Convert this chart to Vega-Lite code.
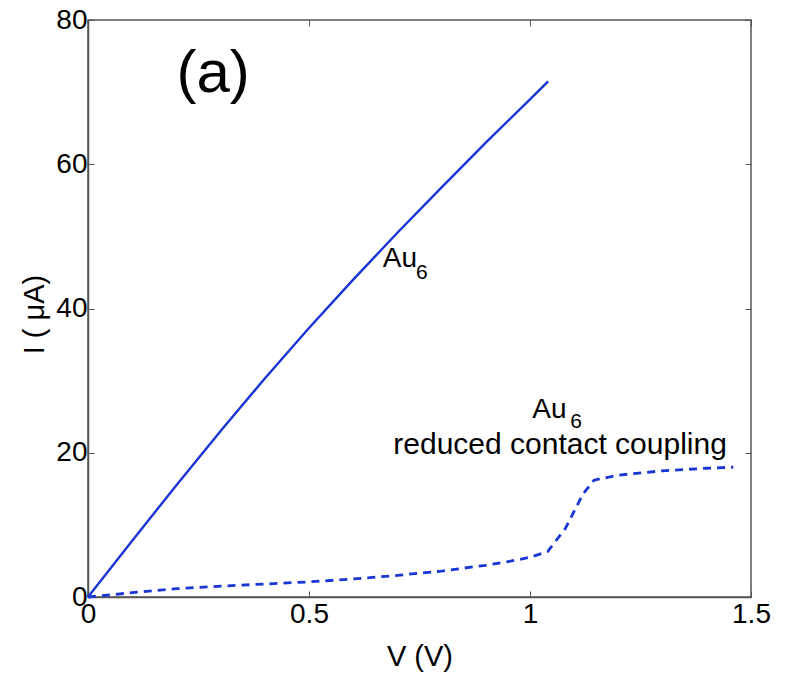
{
  "$schema": "https://vega.github.io/schema/vega-lite/v6.json",
  "width": 663,
  "height": 577,
  "autosize": {"type": "none"},
  "padding": {"left": 88, "top": 20, "right": 35, "bottom": 77},
  "background": "white",
  "config": {
    "view": {"stroke": "#555555", "strokeWidth": 1.5},
    "font": "Liberation Sans",
    "axis": {
      "grid": false,
      "labelFont": "Liberation Sans",
      "labelFontSize": 28,
      "labelColor": "black",
      "titleFont": "Liberation Sans",
      "titleFontSize": 29,
      "titleFontWeight": "normal",
      "titleColor": "black",
      "tickSize": -6,
      "tickColor": "#555555",
      "domainColor": "#555555",
      "domainWidth": 1.5,
      "tickWidth": 1
    }
  },
  "datasets": {
    "solid": [
      {"V": 0.0, "I": 0.0},
      {"V": 0.1, "I": 7.8},
      {"V": 0.2, "I": 15.5},
      {"V": 0.3, "I": 23.0},
      {"V": 0.4, "I": 30.3},
      {"V": 0.5, "I": 37.3},
      {"V": 0.6, "I": 44.0},
      {"V": 0.7, "I": 50.5},
      {"V": 0.8, "I": 56.8},
      {"V": 0.9, "I": 63.0},
      {"V": 1.0, "I": 69.0},
      {"V": 1.041, "I": 71.5}
    ],
    "dashed": [
      {"V": 0.0, "I": 0.0},
      {"V": 0.1, "I": 0.6},
      {"V": 0.2, "I": 1.15},
      {"V": 0.3, "I": 1.5},
      {"V": 0.4, "I": 1.8},
      {"V": 0.5, "I": 2.1},
      {"V": 0.6, "I": 2.5},
      {"V": 0.7, "I": 3.0},
      {"V": 0.8, "I": 3.6},
      {"V": 0.9, "I": 4.4},
      {"V": 0.95, "I": 4.9},
      {"V": 1.0, "I": 5.5},
      {"V": 1.04, "I": 6.3},
      {"V": 1.08, "I": 9.5},
      {"V": 1.12, "I": 14.3},
      {"V": 1.145, "I": 16.2},
      {"V": 1.2, "I": 16.9},
      {"V": 1.3, "I": 17.5},
      {"V": 1.4, "I": 17.85},
      {"V": 1.46, "I": 18.0}
    ],
    "panel": [{"V": 0.283, "I": 70.0, "label": "(a)"}],
    "main": [
      {"V": 0.667, "I": 45.8, "label": "Au"},
      {"V": 1.005, "I": 24.8, "label": "Au"},
      {"V": 1.068, "I": 19.8, "label": "reduced contact coupling"}
    ],
    "sub": [
      {"V": 0.742, "I": 44.1, "label": "6"},
      {"V": 1.091, "I": 23.5, "label": "6"}
    ]
  },
  "resolve": {"axis": {"x": "independent", "y": "independent"}},
  "layer": [
    {
      "data": {"name": "solid"},
      "mark": {"type": "line", "color": "#1a35d6", "strokeWidth": 2.4},
      "encoding": {
        "x": {"field": "V", "type": "quantitative", "scale": {"domain": [0, 1.5], "nice": false, "zero": false},
              "axis": {"values": [0, 0.5, 1, 1.5], "format": "~g", "title": "V (V)", "labelPadding": 9, "titleY": 68, "titleBaseline": "alphabetic", "labelFlush": false, "labelOverlap": false}},
        "y": {"field": "I", "type": "quantitative", "scale": {"domain": [0, 80], "nice": false},
              "axis": {"values": [0, 20, 40, 60, 80], "format": "d", "title": "I ( μA)", "labelPadding": 7, "titleX": -45, "titleY": 294, "titleBaseline": "alphabetic", "titleAngle": -90, "labelFlush": false, "labelOverlap": false}}
      }
    },
    {
      "data": {"name": "dashed"},
      "mark": {"type": "line", "color": "#1a35d6", "strokeWidth": 2.8, "strokeDash": [8, 6]},
      "encoding": {
        "x": {"field": "V", "type": "quantitative", "axis": {"orient": "top", "values": [0, 0.5, 1, 1.5], "labels": false, "title": null, "domain": false}},
        "y": {"field": "I", "type": "quantitative", "axis": {"orient": "right", "values": [0, 20, 40, 60, 80], "labels": false, "title": null, "domain": false}}
      }
    },
    {
      "data": {"name": "panel"},
      "mark": {"type": "text", "fontSize": 60, "align": "center", "baseline": "alphabetic", "color": "black", "font": "Liberation Sans"},
      "encoding": {
        "x": {"field": "V", "type": "quantitative", "axis": null},
        "y": {"field": "I", "type": "quantitative", "axis": null},
        "text": {"field": "label"}
      }
    },
    {
      "data": {"name": "main"},
      "transform": [{"filter": "datum.label == 'Au'"}],
      "mark": {"type": "text", "fontSize": 28, "align": "left", "baseline": "alphabetic", "color": "black", "font": "Liberation Sans"},
      "encoding": {
        "x": {"field": "V", "type": "quantitative", "axis": null},
        "y": {"field": "I", "type": "quantitative", "axis": null},
        "text": {"field": "label"}
      }
    },
    {
      "data": {"name": "main"},
      "transform": [{"filter": "datum.label != 'Au'"}],
      "mark": {"type": "text", "fontSize": 30, "align": "center", "baseline": "alphabetic", "color": "black", "font": "Liberation Sans"},
      "encoding": {
        "x": {"field": "V", "type": "quantitative", "axis": null},
        "y": {"field": "I", "type": "quantitative", "axis": null},
        "text": {"field": "label"}
      }
    },
    {
      "data": {"name": "sub"},
      "mark": {"type": "text", "fontSize": 21, "align": "left", "baseline": "alphabetic", "color": "black", "font": "Liberation Sans"},
      "encoding": {
        "x": {"field": "V", "type": "quantitative", "axis": null},
        "y": {"field": "I", "type": "quantitative", "axis": null},
        "text": {"field": "label"}
      }
    }
  ]
}
